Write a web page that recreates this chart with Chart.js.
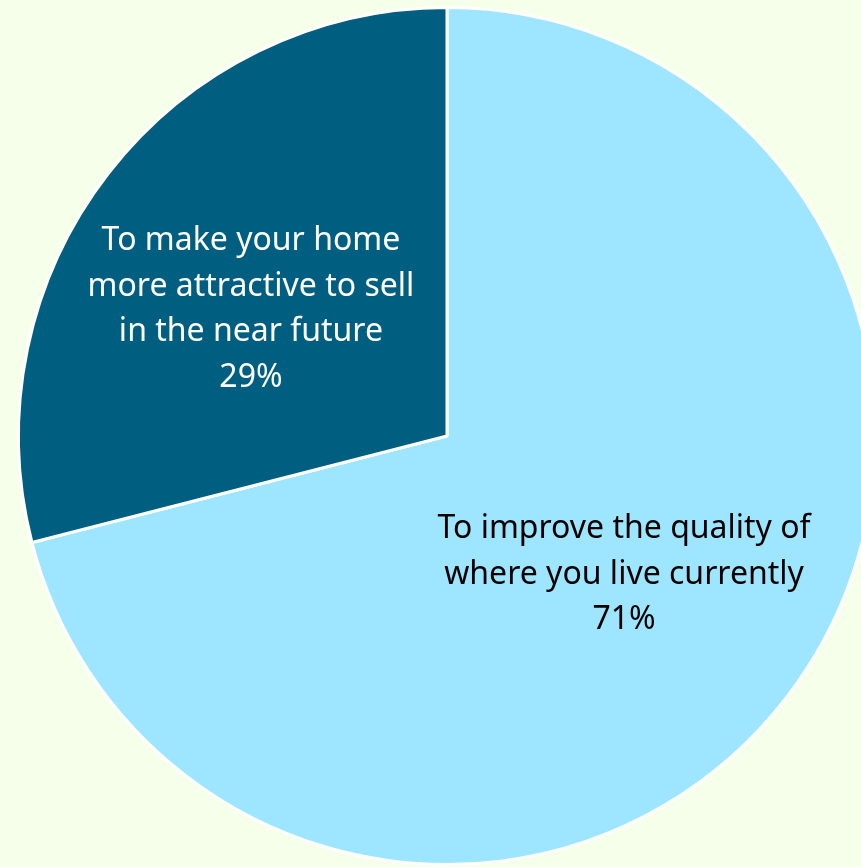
<!DOCTYPE html>
<html>
<head>
<meta charset="utf-8">
<script src="https://cdn.jsdelivr.net/npm/chart.js@4"></script>
<style>
  html, body { margin: 0; padding: 0; background: #F6FFE9; overflow: hidden; width: 861px; height: 867px; }
  #wrap { position: absolute; left: 0; top: 0; width: 894px; height: 874px; }
</style>
</head>
<body>
<div id="wrap"><canvas id="pieChart" width="894" height="874"></canvas></div>
<script>
// Data
const labels = [
  ["To improve the quality of", "where you live currently"],
  ["To make your home", "more attractive to sell", "in the near future"]
];
const values = [71, 29];
const colors = ["#9EE5FF", "#005F80"];
const textColors = ["#000000", "#FFFFFF"];

// label placement inside each slice (fraction of radius, angle nudge in degrees)
const labelRadius = [0.525, 0.545];
const labelNudge = [0.3, -4.9];

const sliceLabels = {
  id: "sliceLabels",
  afterDatasetsDraw(chart) {
    const ctx = chart.ctx;
    const arcs = chart.getDatasetMeta(0).data;
    ctx.save();
    ctx.font = "32px 'Noto Sans'";
    ctx.textAlign = "center";
    ctx.textBaseline = "middle";
    arcs.forEach((arc, i) => {
      const p = arc.getProps(["x", "y", "startAngle", "endAngle", "outerRadius"], true);
      const mid = (p.startAngle + p.endAngle) / 2 + labelNudge[i] * Math.PI / 180;
      const r = p.outerRadius * labelRadius[i];
      const cx = p.x + Math.cos(mid) * r;
      const cy = p.y + Math.sin(mid) * r;
      const lines = labels[i].concat([values[i] + "%"]);
      const lh = 45.5;
      ctx.fillStyle = textColors[i];
      lines.forEach((t, j) => {
        ctx.fillText(t, cx, cy + (j - (lines.length - 1) / 2) * lh);
      });
    });
    ctx.restore();
  }
};

new Chart(document.getElementById("pieChart"), {
  type: "pie",
  data: {
    labels: labels.map(l => l.join(" ")),
    datasets: [{
      data: values,
      backgroundColor: colors,
      borderColor: "#FFFFFF",
      borderWidth: 3
    }]
  },
  options: {
    responsive: false,
    animation: false,
    layout: { padding: { left: 17, top: 6, right: 17, bottom: 8 } },
    plugins: { legend: { display: false }, tooltip: { enabled: false } }
  },
  plugins: [sliceLabels]
});
</script>
</body>
</html>
